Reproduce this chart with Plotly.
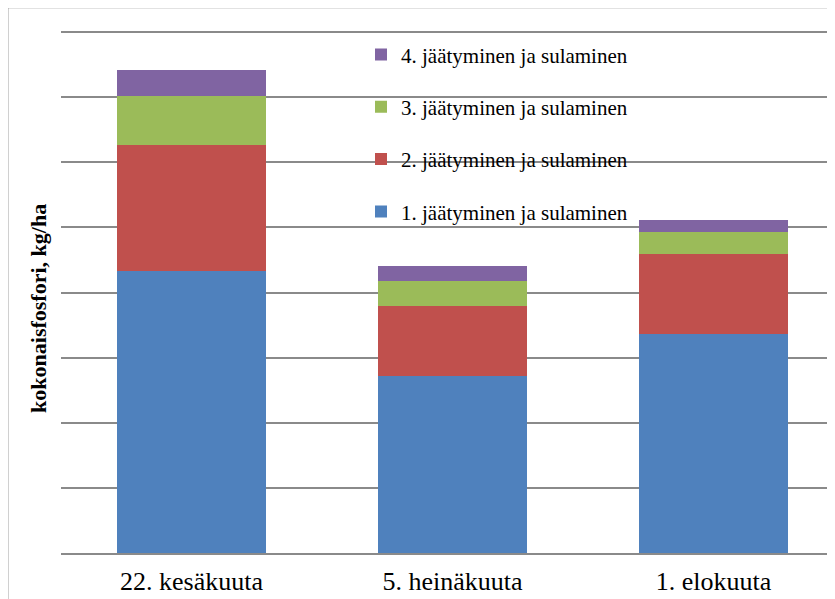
import plotly.graph_objects as go

# Data (kg/ha)
categories = ["22. kesäkuuta", "5. heinäkuuta", "1. elokuuta"]
series_names = [
    "1. jäätyminen ja sulaminen",
    "2. jäätyminen ja sulaminen",
    "3. jäätyminen ja sulaminen",
    "4. jäätyminen ja sulaminen",
]
cycle1 = [0.433, 0.272, 0.336]
cycle2 = [0.194, 0.108, 0.123]
cycle3 = [0.075, 0.038, 0.034]
cycle4 = [0.040, 0.023, 0.019]
y_ticks = [0.0, 0.1, 0.2, 0.3, 0.4, 0.5, 0.6, 0.7, 0.8]

colors = ["#4F81BD", "#C0504D", "#9BBB59", "#8064A2"]
values = [cycle1, cycle2, cycle3, cycle4]

FONT = "Liberation Serif"
OFF = 8  # page body margin
W, H = 835, 599
# desired screen positions
plot_left, plot_right = 61, 835
base_y = 553
unit_px = 65.1 / 0.1
y_top_val = 0.82
plot_top = base_y - y_top_val * unit_px

L = plot_left - OFF
T = plot_top - OFF
B = H - (base_y - OFF)
R = W - (plot_right - OFF)
GRID = "#8a8a8a"

fig = go.Figure()
for i, (name, vals, col) in enumerate(zip(series_names, values, colors)):
    fig.add_trace(go.Bar(
        x=categories, y=vals, name=name, marker=dict(color=col, line=dict(width=0)),
        legendgroup=f"g{i}", legendrank=10 - i,
    ))

cat_px = 261.0
x_hi = -0.5 + (plot_right - plot_left) / cat_px


def px_x(p):
    return (p - plot_left) / (plot_right - plot_left)


def px_y(p):
    return (base_y - p) / (base_y - plot_top)


fig.update_layout(
    width=W, height=H,
    margin=dict(l=L, r=R, t=T, b=B, pad=0, autoexpand=False),
    barmode="stack",
    bargap=0.429,
    plot_bgcolor="white",
    paper_bgcolor="white",
    font=dict(family=FONT, color="black"),
    showlegend=True,
    legend=dict(
        x=px_x(361), y=px_y(34.5), xanchor="left", yanchor="top",
        traceorder="grouped", tracegroupgap=22,
        font=dict(family=FONT, size=21, color="black"),
        bgcolor="rgba(0,0,0,0)", itemwidth=30,
    ),
    xaxis=dict(
        range=[-0.5, x_hi], showgrid=False, showline=True, linecolor=GRID,
        linewidth=1.5, ticks="", tickfont=dict(family=FONT, size=26, color="black"),
        ticklabelstandoff=4, fixedrange=True, automargin=False,
    ),
    yaxis=dict(
        range=[0, y_top_val], tickvals=y_ticks, showticklabels=False, showgrid=True,
        gridcolor=GRID, gridwidth=1.5, zeroline=False, showline=False, ticks="",
        fixedrange=True, automargin=False,
    ),
    shapes=[dict(
        type="rect", xref="paper", yref="paper",
        x0=px_x(7.5), y0=px_y(660), x1=px_x(900), y1=px_y(7.5),
        line=dict(color=GRID, width=1.8), fillcolor="rgba(0,0,0,0)", layer="below",
    )],
    annotations=[dict(
        text="<b>kokonaisfosfori, kg/ha</b>", textangle=-90, xref="paper", yref="paper",
        x=px_x(39), y=px_y(309), xanchor="center", yanchor="middle", showarrow=False,
        font=dict(family=FONT, size=22, color="black"),
    )],
)

fig.write_html("out.html")
